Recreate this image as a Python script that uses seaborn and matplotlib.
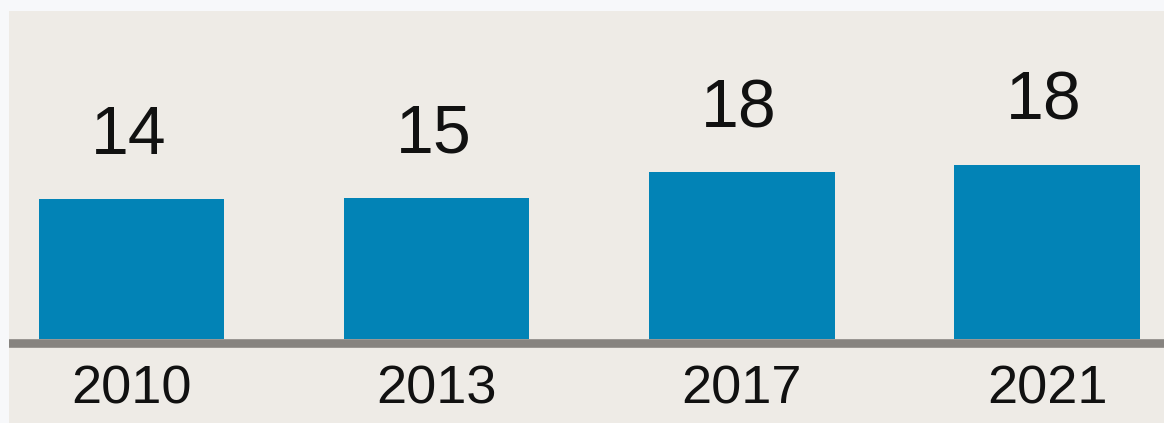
import matplotlib
matplotlib.use("Agg")
import matplotlib.pyplot as plt
from matplotlib.patches import Rectangle
import seaborn as sns
import pandas as pd

# Data
years = ["2010", "2013", "2017", "2021"]
bar_heights = [14.0, 14.1, 16.7, 17.4]   # visible bar heights (as drawn)
value_labels = ["14", "15", "18", "18"]  # printed labels

BG = "#eeebe6"
STRIP = "#f7f8fa"
BAR = "#0283b6"
LINE = "#86837f"

sns.set_theme(style="white")
plt.rcParams["font.family"] = ["Liberation Sans", "DejaVu Sans"]

W, H = 1164, 423
fig = plt.figure(figsize=(W / 100, H / 100), dpi=100, facecolor=BG)
fig.patches.append(Rectangle((0, 1 - 11 / H), 1, 11 / H, transform=fig.transFigure,
                             facecolor=STRIP, edgecolor="none", zorder=0))
fig.patches.append(Rectangle((0, 0), 9 / W, 1, transform=fig.transFigure,
                             facecolor=STRIP, edgecolor="none", zorder=0))

base_px = 343.3  # spine centre from top
ax = fig.add_axes([9 / W, (H - base_px) / H, 1155 / W, (base_px - 11) / H])
ax.set_facecolor("none")

df = pd.DataFrame({"year": years, "value": bar_heights})
sns.barplot(data=df, x="year", y="value", order=years, color=BAR, width=0.607,
            saturation=1, linewidth=0, ax=ax, zorder=3)

ax.set_xlim(-0.4014, 3.383)
ax.set_ylim(-0.43, (base_px - 11) / 10 - 0.43)

for i, (h, lab) in enumerate(zip(bar_heights, value_labels)):
    ax.text(i - 0.01, h + 4.5, lab, ha="center", va="baseline",
            fontsize=49, color="#111111")

for s in ["top", "right", "left"]:
    ax.spines[s].set_visible(False)
ax.spines["bottom"].set_color(LINE)
ax.spines["bottom"].set_linewidth(6.2)
ax.set_yticks([])
ax.set_xlabel("")
ax.set_ylabel("")
ax.tick_params(axis="x", length=0, pad=15.5, labelsize=39, labelcolor="#111111")

fig.savefig("out.png", dpi=100, facecolor=BG)
